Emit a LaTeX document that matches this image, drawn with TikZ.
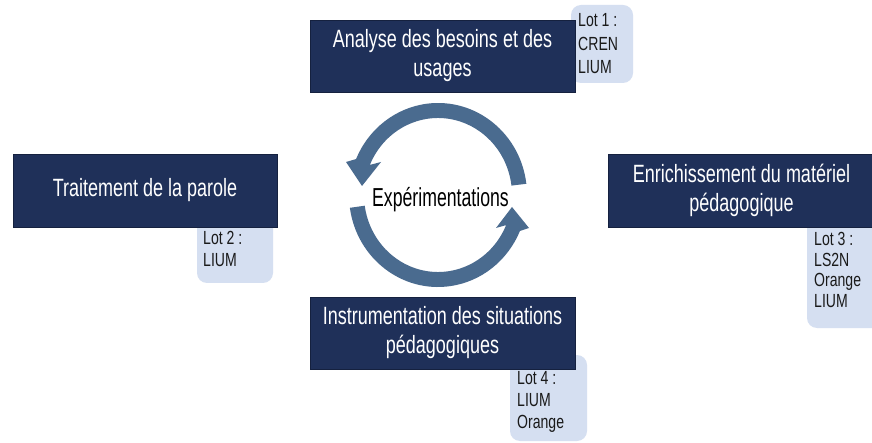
\documentclass[tikz,border=0pt]{standalone}
\usepackage{fontspec}
\usetikzlibrary{calc}
\newfontfamily\boxfont[FakeStretch=0.72]{Liberation Sans}
\newfontfamily\expfont[FakeStretch=0.68]{Liberation Sans}
\newfontfamily\lotfont[FakeStretch=0.74]{Liberation Sans}
\definecolor{navy}{HTML}{1F3059}
\definecolor{navyedge}{HTML}{15213F}
\definecolor{lotblue}{HTML}{D5DFF1}
\definecolor{cyc}{HTML}{4A6B8F}
\definecolor{lottxt}{HTML}{1A1A1A}
\tikzset{
  mainbox/.style={draw=navyedge, line width=0.8pt, fill=navy, text=white,
    font=\boxfont\fontsize{25}{29}\selectfont, align=center, inner sep=0pt},
  lotbox/.style={fill=lotblue, rounded corners=10pt, inner sep=0pt},
  lottext/.style={font=\lotfont\fontsize{19}{22}\selectfont, text=lottxt,
    align=left, inner sep=0pt, anchor=north west},
  cyclearrow/.style={fill=cyc},
}
\begin{document}
\begin{tikzpicture}[x=1pt,y=1pt]
\useasboundingbox (0,0) rectangle (872,442);
\fill[white] (0,0) rectangle (872,442);

% Lot boxes (behind)
\node[lotbox, minimum width=62pt, minimum height=78pt] (lot1box) at (602,398) {};
\node[lotbox, minimum width=76pt, minimum height=68pt] (lot2box) at (235,193) {};
\node[lotbox, minimum width=75pt, minimum height=113pt] (lot3box) at (844.5,170.5) {};
\node[lotbox, minimum width=77pt, minimum height=86pt] (lot4box) at (548.5,44) {};

% Main boxes
\node[mainbox, minimum width=265pt, minimum height=72pt] (analyse) at (442.5,386) {\raisebox{-1.5pt}{Analyse des besoins et des}\\\raisebox{-1.5pt}{usages}};
\node[mainbox, minimum width=264pt, minimum height=73pt] (parole) at (145,251.5) {Traitement de la parole};
\node[mainbox, minimum width=267pt, minimum height=73pt] (enrich) at (741.5,251.5) {Enrichissement du matériel\\pédagogique};
\node[mainbox, minimum width=265pt, minimum height=72pt] (instru) at (442.5,109) {Instrumentation des situations\\pédagogiques};

% Lot texts
\node[lottext, font=\lotfont\fontsize{19}{23.5}\selectfont] (lot1) at (578,428.5) {Lot 1 :\\CREN\\LIUM};
\node[lottext] (lot2) at (203,210.5) {Lot 2 :\\LIUM};
\node[lottext, font=\lotfont\fontsize{19}{20.5}\selectfont] (lot3) at (814,209.5) {Lot 3 :\\LS2N\\Orange\\LIUM};
\node[lottext] (lot4) at (517,70.5) {Lot 4 :\\LIUM\\Orange};

% Cycle arrows
\coordinate (c) at (438,247);
\fill[cyclearrow] ($(c)+(7:89 and 92)$) arc[start angle=7, end angle=157, x radius=89, y radius=92]
  -- (346,280) -- (362,256) -- (381,280)
  -- ($(c)+(157:74 and 77)$) arc[start angle=157, end angle=7, x radius=74, y radius=77] -- cycle;
\fill[cyclearrow] ($(c)+(188:89 and 92)$) arc[start angle=188, end angle=337, x radius=89, y radius=92]
  -- (529,214) -- (512,235) -- (496,214)
  -- ($(c)+(337:74 and 77)$) arc[start angle=337, end angle=188, x radius=74, y radius=77] -- cycle;

\node[font=\expfont\fontsize{26}{28}\selectfont, inner sep=0pt, anchor=base] (exp) at (440.5,235) {Expérimentations};
\end{tikzpicture}
\end{document}
